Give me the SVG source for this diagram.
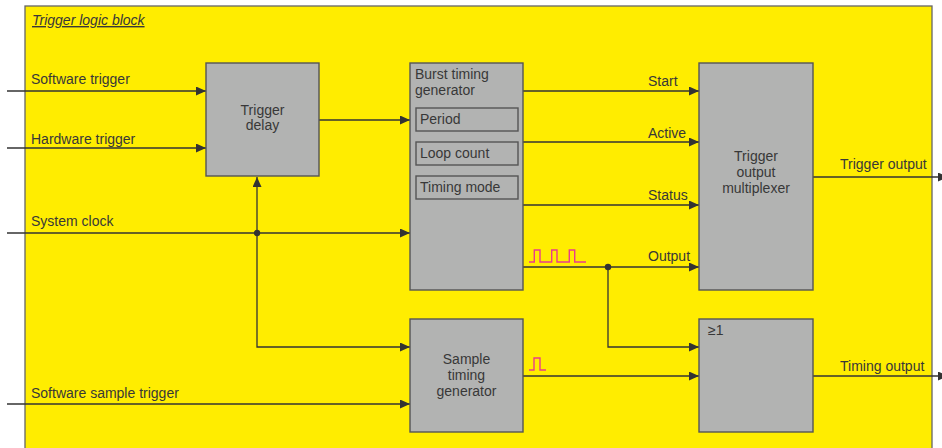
<svg xmlns="http://www.w3.org/2000/svg" width="942" height="448" viewBox="0 0 942 448">
<defs>
<marker id="arr" markerUnits="userSpaceOnUse" markerWidth="11" markerHeight="10" refX="10" refY="4.5" orient="auto">
<path d="M0,0 L10,4.5 L0,9 z" fill="#333"/>
</marker>
<style>
.t{font-family:"Liberation Sans",Arial,sans-serif;font-size:14px;fill:#383838}
.c{text-anchor:middle}
.box{fill:#B2B3B2;stroke:#555;stroke-width:1.4}
.ln{fill:none;stroke:#333;stroke-width:1.3}
.pulse{fill:none;stroke:#EA3C8C;stroke-width:1.4}
</style>
</defs>
<rect width="942" height="448" fill="#fff"/>
<rect id="frame" x="25" y="6" width="907" height="450" fill="#FFED00" stroke="#666" stroke-width="1.3"/>
<text class="t" x="32" y="25" font-style="italic" text-decoration="underline">Trigger logic block</text>

<g id="connectors">
<line class="ln" x1="7" y1="91" x2="206" y2="91" marker-end="url(#arr)"/>
<line class="ln" x1="7" y1="148" x2="206" y2="148" marker-end="url(#arr)"/>
<line class="ln" x1="7" y1="233" x2="410" y2="233" marker-end="url(#arr)"/>
<line class="ln" x1="7" y1="404" x2="410" y2="404" marker-end="url(#arr)"/>
<line class="ln" x1="257" y1="233" x2="257" y2="177" marker-end="url(#arr)"/>
<polyline class="ln" points="257,233 257,347 410,347" marker-end="url(#arr)"/>
<line class="ln" x1="319" y1="120" x2="410" y2="120" marker-end="url(#arr)"/>
<line class="ln" x1="523" y1="91" x2="699" y2="91" marker-end="url(#arr)"/>
<line class="ln" x1="523" y1="142" x2="699" y2="142" marker-end="url(#arr)"/>
<line class="ln" x1="523" y1="205" x2="699" y2="205" marker-end="url(#arr)"/>
<line class="ln" x1="523" y1="267" x2="699" y2="267" marker-end="url(#arr)"/>
<polyline class="ln" points="608,267 608,347 699,347" marker-end="url(#arr)"/>
<line class="ln" x1="523" y1="376" x2="699" y2="376" marker-end="url(#arr)"/>
<line class="ln" x1="813" y1="177" x2="948" y2="177" marker-end="url(#arr)"/>
<line class="ln" x1="813" y1="376" x2="948" y2="376" marker-end="url(#arr)"/>
<circle cx="257" cy="233" r="3.2" fill="#333"/>
<circle cx="608" cy="267" r="3.2" fill="#333"/>
<polyline class="pulse" points="529,262 534.3,262 534.3,250 540,250 540,262 551.7,262 551.7,250 557,250 557,262 569.3,262 569.3,250 574.7,250 574.7,262 586,262"/>
<polyline class="pulse" points="529,370 534,370 534,358 540,358 540,370 546,370"/>
</g>

<g id="labels">
<text class="t" x="31" y="84">Software trigger</text>
<text class="t" x="31" y="144">Hardware trigger</text>
<text class="t" x="31" y="226">System clock</text>
<text class="t" x="31" y="398">Software sample trigger</text>
<text class="t" x="648" y="86">Start</text>
<text class="t" x="648" y="138">Active</text>
<text class="t" x="648" y="200">Status</text>
<text class="t" x="648" y="261">Output</text>
<text class="t" x="840" y="169">Trigger output</text>
<text class="t" x="840" y="371">Timing output</text>
</g>

<g id="trigger-delay">
<rect class="box" x="206" y="63" width="113" height="113"/>
<text class="t c" x="262.5" y="115">Trigger</text>
<text class="t c" x="262.5" y="130">delay</text>
</g>

<g id="burst-timing-generator">
<rect class="box" x="410" y="63" width="113" height="227"/>
<text class="t" x="415" y="79">Burst timing</text>
<text class="t" x="415" y="95">generator</text>
<g id="period"><rect class="box" x="416" y="108" width="102" height="23"/><text class="t" x="420" y="124">Period</text></g>
<g id="loop-count"><rect class="box" x="416" y="142" width="102" height="23"/><text class="t" x="420" y="158">Loop count</text></g>
<g id="timing-mode"><rect class="box" x="416" y="176" width="102" height="23"/><text class="t" x="420" y="192">Timing mode</text></g>
</g>

<g id="trigger-output-multiplexer">
<rect class="box" x="699" y="63" width="114" height="227"/>
<text class="t c" x="756" y="161">Trigger</text>
<text class="t c" x="756" y="177">output</text>
<text class="t c" x="756" y="193">multiplexer</text>
</g>

<g id="sample-timing-generator">
<rect class="box" x="410" y="319" width="113" height="113"/>
<text class="t c" x="466.5" y="364">Sample</text>
<text class="t c" x="466.5" y="380">timing</text>
<text class="t c" x="466.5" y="396">generator</text>
</g>

<g id="or-gate">
<rect class="box" x="699" y="319" width="114" height="113"/>
<text class="t" x="708" y="335">≥1</text>
</g>
</svg>
